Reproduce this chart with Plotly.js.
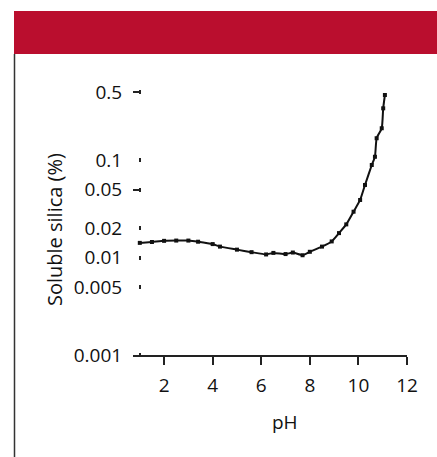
<!DOCTYPE html>
<html>
<head>
<meta charset="utf-8">
<script src="https://cdn.plot.ly/plotly-3.0.1.min.js"></script>
<style>html,body{margin:0;padding:0;background:#fff;}#chart{width:437px;height:457px;}</style>
</head>
<body>
<div id="chart"></div>
<script>
// Data
const phValues = [1.0, 1.5, 2.0, 2.5, 3.0, 3.4, 4.0, 4.3, 5.0, 5.6, 6.2, 6.5, 7.0, 7.3, 7.7, 8.0, 8.5, 8.9, 9.2, 9.5, 9.8, 10.07, 10.27, 10.55, 10.68, 10.75, 10.96, 11.02, 11.09];
const silicaValues = [0.0142, 0.0145, 0.0149, 0.015, 0.015, 0.0146, 0.0138, 0.013, 0.0121, 0.0114, 0.0108, 0.0112, 0.0109, 0.0113, 0.0106, 0.0115, 0.013, 0.0147, 0.0179, 0.022, 0.0297, 0.0392, 0.0559, 0.0897, 0.109, 0.169, 0.214, 0.343, 0.47];
const xTickVals = [2, 4, 6, 8, 10, 12];
const yTickVals = [0.001, 0.005, 0.01, 0.02, 0.05, 0.1, 0.5];
const yTickText = ["0.001", "0.005", "0.01", "0.02", "0.05", "0.1", "0.5"];
const yDashVals = [0.05, 0.5];
const xTitle = "pH";
const yTitle = "Soluble silica (%)";

const FONT = "Open Sans, Noto Sans, sans-serif";
const yRange = [-3, -3 + 275 / 97.3];

const traces = [{
  x: phValues, y: silicaValues, type: "scatter", mode: "lines+markers",
  line: {color: "#111", width: 2, shape: "spline", smoothing: 0.5},
  marker: {color: "#111", symbol: "square", size: 4},
  hoverinfo: "skip", showlegend: false
}, {
  x: phValues, y: silicaValues, type: "scatter", mode: "none", yaxis: "y2",
  hoverinfo: "skip", showlegend: false
}];

const layout = {
  width: 437, height: 457,
  margin: {l: 133, r: 30, t: 80, b: 102},
  paper_bgcolor: "#fff", plot_bgcolor: "#fff",
  font: {family: FONT, size: 19, color: "#111"},
  showlegend: false,
  xaxis: {
    range: [0.72, 12], tickvals: xTickVals, ticktext: xTickVals.map(String),
    showgrid: false, zeroline: false, showline: true, linecolor: "#222", linewidth: 2,
    ticks: "outside", ticklen: 8, tickwidth: 2, tickcolor: "#222",
    tickfont: {family: FONT, size: 19, color: "#111"}, ticklabelstandoff: 4
  },
  yaxis: {
    type: "log", range: yRange, anchor: "free", position: 8 / 274,
    tickvals: yTickVals, ticktext: yTickText,
    showgrid: false, zeroline: false, showline: false,
    ticks: "outside", ticklen: 2, tickwidth: 4, tickcolor: "#222",
    tickfont: {family: FONT, size: 19, color: "#111"}, ticklabelstandoff: 13
  },
  yaxis2: {
    type: "log", range: yRange, overlaying: "y", anchor: "free", position: 8 / 274,
    tickvals: yDashVals, showticklabels: false,
    showgrid: false, zeroline: false, showline: false,
    ticks: "outside", ticklen: 8, tickwidth: 2, tickcolor: "#222"
  },
  shapes: [
    {type: "rect", xref: "paper", yref: "paper", x0: (14 - 133) / 274, x1: (437 - 133) / 274,
     y0: (355 - 54) / 275, y1: (355 - 11) / 275, fillcolor: "#BA0E2E", line: {width: 0}, layer: "below"},
    {type: "line", xref: "paper", yref: "paper", x0: (14.5 - 133) / 274, x1: (14.5 - 133) / 274,
     y0: (355 - 460) / 275, y1: (355 - 54) / 275, line: {color: "#333", width: 1.5}}
  ],
  annotations: [
    {text: xTitle, xref: "paper", yref: "paper", x: (285 - 133) / 274, y: (355 - 422) / 275,
     xanchor: "center", yanchor: "middle", showarrow: false, font: {family: FONT, size: 19, color: "#111"}},
    {text: yTitle, xref: "paper", yref: "paper", x: (54 - 133) / 274, y: (355 - 230) / 275,
     xanchor: "center", yanchor: "middle", textangle: -90, showarrow: false, font: {family: FONT, size: 20, color: "#111"}}
  ]
};

Plotly.newPlot("chart", traces, layout, {staticPlot: true, displayModeBar: false});
</script>
</body>
</html>
